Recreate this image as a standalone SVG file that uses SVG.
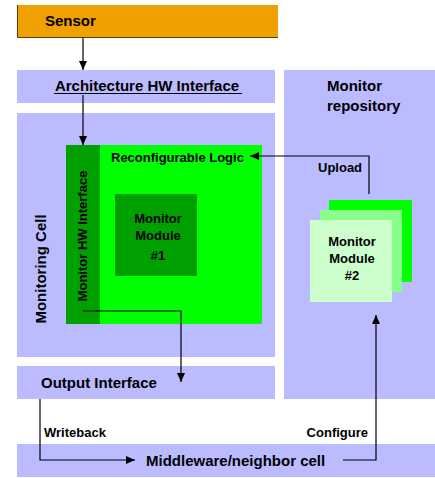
<svg xmlns="http://www.w3.org/2000/svg" width="435" height="478" viewBox="0 0 435 478">
<defs>
<marker id="ah" markerWidth="9" markerHeight="8" refX="9" refY="4" orient="auto" markerUnits="userSpaceOnUse">
<path d="M0,0 L9,4 L0,8 Z" fill="#000"/>
</marker>
<style>
text{font-family:"Liberation Sans",Arial,Helvetica,sans-serif;font-weight:bold;fill:#000}
.lav{fill:#BBBBFF}
.big{font-size:15px}
.sm{font-size:13px}
.c{text-anchor:middle}
.e{text-anchor:end}
.ln{fill:none;stroke:#000;stroke-width:1.2}
</style>
</defs>
<rect width="435" height="478" fill="#fff"/>
<g id="sensor">
<rect x="17" y="5" width="261" height="33" fill="#F0A000"/>
<path d="M17.5,5 V37.5 H278" fill="none" stroke="#5a3c00" stroke-width="1"/>
<text class="big" x="45" y="26">Sensor</text>
</g>
<g id="arch-hw">
<rect class="lav" x="17" y="70" width="258" height="33"/>
<text class="big c" x="147" y="91">Architecture HW Interface</text>
<line x1="54" y1="93.5" x2="242" y2="93.5" stroke="#000" stroke-width="1"/>
</g>
<g id="monitor-repository">
<rect class="lav" x="284" y="70" width="151" height="329"/>
<text class="big" x="327" y="91">Monitor</text>
<text class="big" x="327" y="111">repository</text>
</g>
<g id="monitoring-cell">
<rect class="lav" x="17" y="113" width="258" height="244"/>
<text class="big c" transform="translate(46,269) rotate(-90)">Monitoring Cell</text>
</g>
<g id="reconfigurable-logic">
<rect x="66" y="145" width="196" height="179" fill="#00FF00"/>
<text class="sm" x="111" y="162">Reconfigurable Logic</text>
</g>
<g id="monitor-hw-interface">
<rect x="66" y="145" width="34" height="179" fill="#00A000"/>
<text class="sm c" transform="translate(87,236) rotate(-90)">Monitor HW Interface</text>
</g>
<g id="monitor-module-1">
<rect x="115" y="194" width="82" height="82" fill="#00A000"/>
<text class="sm c" x="158" y="223">Monitor</text>
<text class="sm c" x="158" y="240">Module</text>
<text class="sm c" x="158" y="260">#1</text>
</g>
<g id="monitor-module-2">
<rect x="329" y="200" width="83" height="82" fill="#00FF00"/>
<rect x="320" y="210" width="82" height="82" fill="#88FF88"/>
<rect x="310" y="220" width="82" height="82" fill="#CCFFCC"/>
<text class="sm c" x="352" y="246">Monitor</text>
<text class="sm c" x="352" y="263">Module</text>
<text class="sm c" x="352" y="280">#2</text>
</g>
<g id="output-interface">
<rect class="lav" x="17" y="366" width="258" height="33"/>
<text class="big" x="41" y="388">Output Interface</text>
</g>
<g id="middleware">
<rect class="lav" x="17" y="444" width="418" height="33"/>
<text class="big" x="146" y="466">Middleware/neighbor cell</text>
</g>
<g id="connectors">
<line class="ln" x1="83" y1="38" x2="83" y2="70" marker-end="url(#ah)"/>
<line class="ln" x1="83" y1="95" x2="83" y2="145" marker-end="url(#ah)"/>
<polyline class="ln" points="83,311 181,311 181,382" marker-end="url(#ah)"/>
<polyline class="ln" points="369,194 369,156 250,156" marker-end="url(#ah)"/>
<polyline class="ln" points="40,399 40,460 135,460" marker-end="url(#ah)"/>
<polyline class="ln" points="343,460 376,460 376,315" marker-end="url(#ah)"/>
<text class="sm" x="318" y="172">Upload</text>
<text class="sm" x="44" y="437">Writeback</text>
<text class="sm e" x="368" y="437">Configure</text>
</g>
</svg>
